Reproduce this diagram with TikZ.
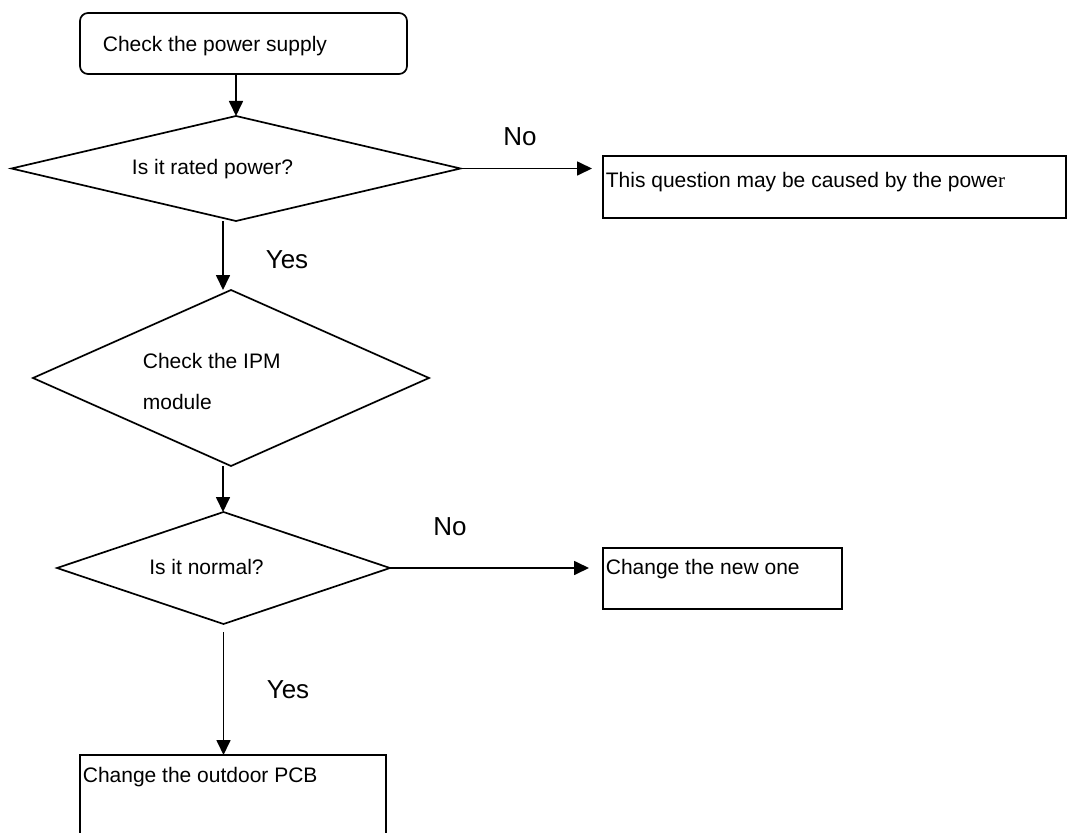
\documentclass[tikz,border=0pt]{standalone}
\usepackage{fontspec}
\setmainfont{Liberation Sans}
\newfontfamily\serifr{Liberation Serif}
\usetikzlibrary{shapes.geometric,arrows.meta}
\begin{document}
\begin{tikzpicture}[x=1pt,y=-1pt,
  line width=1.7pt,
  body/.style={font=\fontsize{21}{25}\selectfont, inner sep=0pt},
  lbl/.style={font=\fontsize{26}{30}\selectfont, inner sep=0pt},
  dia/.style={draw, diamond, inner sep=0pt, outer sep=0pt},
  rect/.style={draw, rectangle, inner sep=0pt, outer sep=0pt},
  arr/.style={-{Triangle[length=15pt,width=14pt]}},
]
\useasboundingbox (0,0) rectangle (1067,832);
\clip (0,0) rectangle (1067,832);

% shapes
\node[rect, rounded corners=8pt, minimum width=327, minimum height=61, anchor=north west] (start) at (80,13) {};
\node[body, anchor=west] (starttxt) at (102,46) {Check the power supply};

\node[dia, minimum width=449, minimum height=105] (d1) at (236,168.5) {};
\node[body] (d1txt) at (212.5,169) {Is it rated power?};

\node[rect, minimum width=463, minimum height=62, anchor=north west] (b2) at (603,156) {};
\node[body, anchor=west] (b2txt) at (605,182) {This question may be caused by the powe{\serifr r}};

\node[dia, minimum width=396, minimum height=176] (d2) at (231,378) {};
\node[body, anchor=west, align=left, font=\fontsize{21}{41}\selectfont] (d2txt) at (142,381.5) {Check the IPM\\module};

\node[dia, minimum width=333, minimum height=112] (d3) at (223.5,568) {};
\node[body] (d3txt) at (206.5,567) {Is it normal?};

\node[rect, minimum width=239, minimum height=61, anchor=north west] (b3) at (603,548) {};
\node[body, anchor=west] (b3txt) at (605,569) {Change the new one};

\node[rect, minimum width=306, minimum height=120, anchor=north west] (b4) at (80,755) {};
\node[body, anchor=west] (b4txt) at (82,777) {Change the outdoor PCB};

% labels
\node[lbl] (no1) at (520,137) {No};
\node[lbl] (yes1) at (287,260) {Yes};
\node[lbl] (no2) at (450,527) {No};
\node[lbl] (yes2) at (288,690) {Yes};

% connectors
\draw[arr] (start.south -| d1.north) -- (d1.north);
\draw[arr, shorten >=11pt] (d1.east) -- (d1.east -| b2.west);
\draw[arr] ([xshift=-13]d1.south) -- ([xshift=-13]d1.south |- d2.north);
\draw[arr] ([xshift=-8]d2.south) -- ([xshift=-8]d2.south |- d3.north);
\draw[arr, shorten >=14pt] (d3.east) -- (d3.east -| b3.west);
\draw[arr, shorten <=8pt] (d3.south) -- (d3.south |- b4.north);
\end{tikzpicture}
\end{document}
